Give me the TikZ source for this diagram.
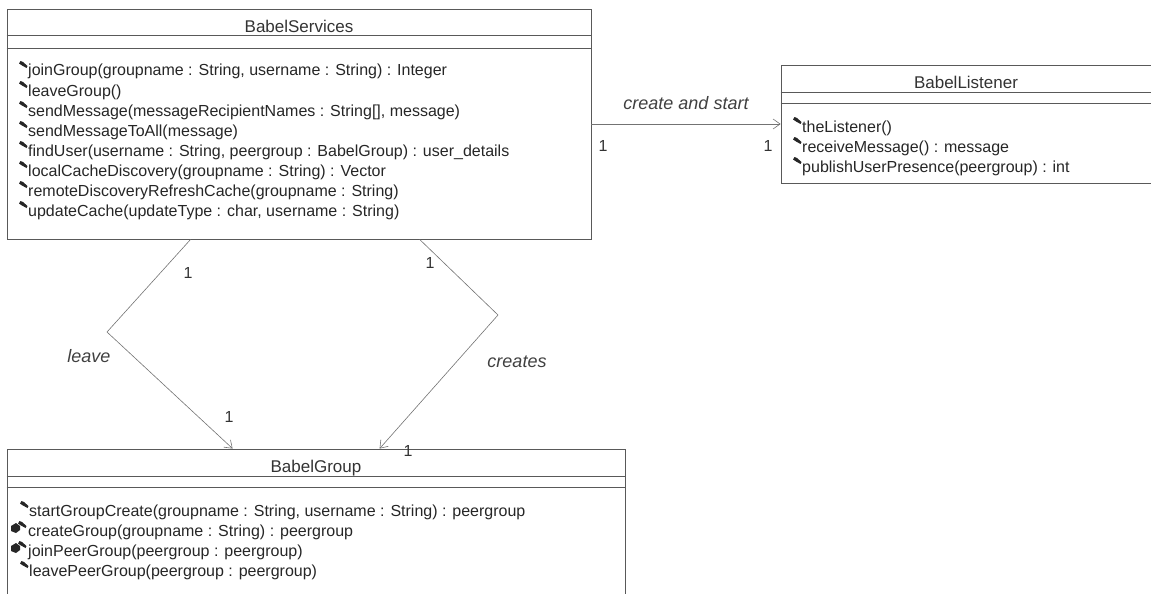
\documentclass[tikz,border=0pt]{standalone}
\usepackage{fontspec}
\setmainfont{Liberation Sans}
\usetikzlibrary{arrows.meta}
\tikzset{
  classbox/.style={draw=black!65, line width=0.8pt, inner sep=0pt},
  sepline/.style={draw=black!65, line width=0.8pt},
  assoc/.style={draw=black!55, line width=0.6pt},
  openarrow/.style={-{Straight Barb[length=7pt,width=10pt]}},
  classname/.style={inner sep=0pt, font=\fontsize{17}{20}\selectfont, text=black!80, text height=12pt, text depth=3.5pt},
  optext/.style={anchor=west, inner sep=0pt, font=\fontsize{16}{20}\selectfont, text=black!85, text height=11.5pt, text depth=3.5pt},
  rolelabel/.style={inner sep=0pt, font=\fontsize{18}{20}\selectfont\itshape, text=black!75},
  mult/.style={inner sep=0pt, font=\fontsize{16}{20}\selectfont, text=black!80},
}
\def\opdot(#1,#2){\fill[black!85] (#1,#2-8.5) -- (#1+1.5,#2-11) -- (#1+4,#2-10) -- (#1+8.5,#2-6) -- (#1+7.5,#2-4) -- (#1+3,#2-6.5) -- cycle;}
\def\protdot(#1,#2){\fill[black!85] (#1,#2-1) -- (#1,#2-6) -- (#1+5,#2-9) -- (#1+9,#2-6) -- (#1+9,#2-2) -- (#1+5,#2+1) -- cycle; \opdot(#1+7,#2)}

\begin{document}
\begin{tikzpicture}[x=1pt,y=-1pt]
		%%%%% START %%%%%
		\useasboundingbox (0,0) rectangle (1151,594);
		
		% BabelServices
		\node[classbox, minimum width=584pt, minimum height=230pt] (services) at (299,124) {};
		\draw[sepline] ([yshift=-27pt]services.north west) -- ([yshift=-27pt]services.north east);
		\draw[sepline] ([yshift=-40pt]services.north west) -- ([yshift=-40pt]services.north east);
		\node[classname] (servicesname) at (299,28) {BabelServices};
		
		\opdot(19,72) \node[optext] (joingroup) at (28,72) {joinGroup(groupname : String, username : String) : Integer};
		\opdot(19,92) \node[optext] (leavegroup) at (28,92) {leaveGroup()};
		\opdot(19,112) \node[optext] (sendmessage) at (28,112) {sendMessage(messageRecipientNames : String[], message)};
		\opdot(19,132) \node[optext] (sendtoall) at (28,132) {sendMessageToAll(message)};
		\opdot(19,152) \node[optext] (finduser) at (28,152) {findUser(username : String, peergroup : BabelGroup) : user\_details};
		\opdot(19,172) \node[optext] (localcache) at (28,172) {localCacheDiscovery(groupname : String) : Vector};
		\opdot(19,192) \node[optext] (remotecache) at (28,192) {remoteDiscoveryRefreshCache(groupname : String)};
		\opdot(19,212) \node[optext] (updatecache) at (28,212) {updateCache(updateType : char, username : String)};
		
		% BabelListener
		\node[classbox, minimum width=372pt, minimum height=118pt] (listener) at (967,124) {};
		\draw[sepline] ([yshift=-28pt]listener.north west) -- ([yshift=-28pt]listener.north east);
		\draw[sepline] ([yshift=-39pt]listener.north west) -- ([yshift=-39pt]listener.north east);
		\node[classname] (listenername) at (966,84) {BabelListener};
		
		\opdot(793,128) \node[optext] (thelistener) at (802,128) {theListener()};
		\opdot(793,148) \node[optext] (receivemsg) at (802,148) {receiveMessage() : message};
		\opdot(793,168) \node[optext] (publishuser) at (802,168) {publishUserPresence(peergroup) : int};
		
		% BabelGroup
		\node[classbox, minimum width=618pt, minimum height=170pt] (group) at (316,534) {};
		\draw[sepline] ([yshift=-28pt]group.north west) -- ([yshift=-28pt]group.north east);
		\draw[sepline] ([yshift=-39pt]group.north west) -- ([yshift=-39pt]group.north east);
		\node[classname] (groupname) at (316,468) {BabelGroup};
		
		\opdot(20,512) \node[optext] (startcreate) at (29,512) {startGroupCreate(groupname : String, username : String) : peergroup};
		\protdot(11,532) \node[optext] (creategroup) at (28,532) {createGroup(groupname : String) : peergroup};
		\protdot(11,552) \node[optext] (joinpeer) at (28,552) {joinPeerGroup(peergroup : peergroup)};
		\opdot(20,572) \node[optext] (leavepeer) at (29,572) {leavePeerGroup(peergroup : peergroup)};
		
		% associations
		\coordinate (leavebend) at (107,332);
		\coordinate (createsbend) at (498,315);
		\draw[assoc, openarrow] (services.east |- listener.west) -- (listener.west);
		\draw[assoc, openarrow] ([xshift=184pt]services.south west) -- (leavebend) -- ([xshift=226pt]group.north west);
		\draw[assoc, openarrow] ([xshift=413pt]services.south west) -- (createsbend) -- ([xshift=373pt]group.north west);
		
		\node[rolelabel] (startlabel) at (686,103) {create and start};
		\node[mult] (startsrc) at (603,146) {1};
		\node[mult] (starttgt) at (768,146) {1};
		\node[rolelabel] (leavelabel) at (89,356) {leave};
		\node[mult] (leavesrc) at (188,273) {1};
		\node[mult] (leavetgt) at (229,417) {1};
		\node[rolelabel] (createslabel) at (517,362) {creates};
		\node[mult] (createssrc) at (430,263) {1};
		\node[mult] (createstgt) at (408,451) {1};
		%%%%% END %%%%%
\end{tikzpicture}
\end{document}
